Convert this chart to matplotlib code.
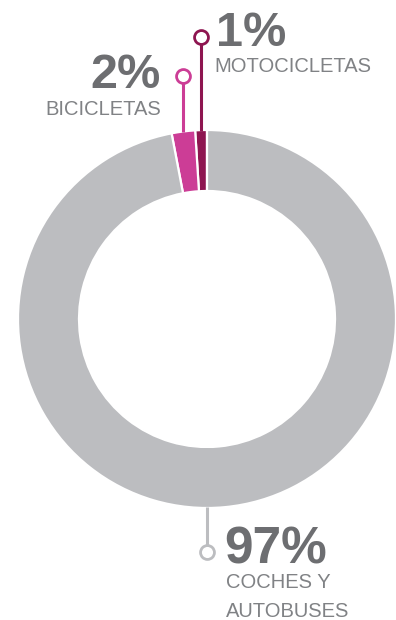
import numpy as np
import matplotlib.pyplot as plt

plt.rcParams['font.family'] = ['Liberation Sans', 'DejaVu Sans']

labels = ['MOTOCICLETAS', 'BICICLETAS', 'COCHES Y\nAUTOBUSES']
shares = [1, 2, 97]
colors = ['#8e1550', '#cc3d96', '#bcbdc0']

pct_color = '#6d6e71'
lbl_color = '#808285'

W, H = 396, 620
cx, cy = 207, H - 319
R, ring = 189, 61

fig = plt.figure(figsize=(W / 100, H / 100), dpi=100)
ax = fig.add_axes([0, 0, 1, 1])

ax.pie(shares, colors=colors, startangle=90, counterclock=True,
       center=(cx, cy), radius=R,
       wedgeprops=dict(width=ring, edgecolor='white', linewidth=1.6))
ax.set_xlim(0, W)
ax.set_ylim(0, H)
ax.set_aspect('equal')
ax.axis('off')

# leader lines: anchor angle on the ring, end point of the stick
edges = np.cumsum([0] + shares) * 3.6 + 90
mids = (edges[:-1] + edges[1:]) / 2
anchors = [mids[0], mids[1], 270]
tips = [H - 37, H - 76, H - 552]

for ang, tip, col in zip(anchors, tips, colors):
    a = np.radians(ang)
    x0 = cx + (R - 1) * np.cos(a)
    y0 = cy + (R - 1) * np.sin(a)
    ax.plot([x0, x0], [y0, tip], color=col, lw=2.2, solid_capstyle='butt', zorder=3)
    ax.plot(x0, tip, marker='o', ms=10, mfc='white', mec=col, mew=2.0, zorder=4)

big = dict(fontsize=35, fontweight='bold', color=pct_color, va='baseline')
small = dict(fontsize=14.5, color=lbl_color, va='baseline')

# percentage figures and category names
ax.text(216, H - 46, f'{shares[0]}%', ha='left', **big)
ax.text(214, H - 72, labels[0], ha='left', **small)

ax.text(161, H - 88, f'{shares[1]}%', ha='right', **big)
ax.text(161, H - 115, labels[1], ha='right', **small)

ax.text(224, H - 563, f'{shares[2]}%', ha='left', fontsize=37,
        fontweight='bold', color=pct_color, va='baseline')
for i, line in enumerate(labels[2].split('\n')):
    ax.text(226, H - 588 - 29 * i, line, ha='left', **small)

fig.savefig('out.png', dpi=100)
